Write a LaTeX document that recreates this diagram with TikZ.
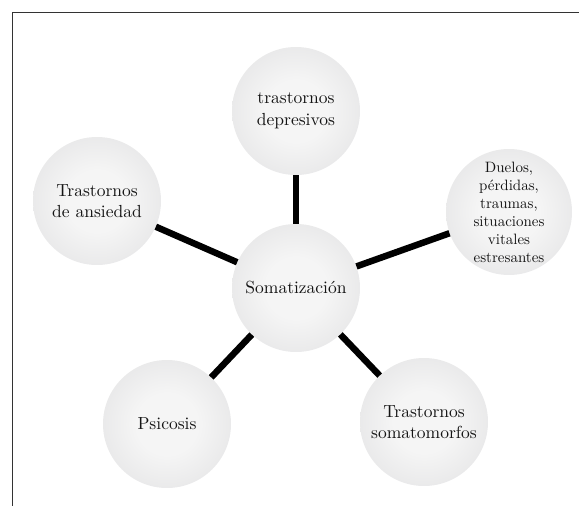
\documentclass[tikz,border=0pt]{standalone}
\usepackage{tikz}
\usepackage{fontspec}
\setmainfont{lmroman10-regular.otf}
\definecolor{ballin}{RGB}{245,245,245}
\definecolor{ballout}{RGB}{212,212,214}
\definecolor{txt}{RGB}{20,20,20}
\pgfdeclareradialshading{ballshade}{\pgfpoint{0bp}{0bp}}{color(0bp)=(ballin); color(12bp)=(ballin); color(50bp)=(ballout)}
\begin{document}
\begin{tikzpicture}[x=1pt,y=-1pt,
  ball/.style={circle, shading=ballshade, minimum size=128pt, inner sep=0pt, align=center, text=txt,
    font=\fontsize{17.5}{21.5}\selectfont},
  smallball/.style={ball, font=\fontsize{15}{18}\selectfont},
  link/.style={line width=6.5pt, black}]
\useasboundingbox (0,0) rectangle (579,506);
\draw[line width=0.9pt, black!80] (12,506) -- (12,12) -- (579,12);
\node[ball] (top) at (296,111) {trastornos\\depresivos};
\node[ball] (left) at (97,201) {Trastornos\\de ansiedad};
\node[smallball, minimum size=126pt] (right) at (509,212) {Duelos,\\pérdidas,\\traumas,\\situaciones\\vitales\\estresantes};
\node[ball] (center) at (296,288) {Somatización};
\node[ball] (psi) at (167,424) {Psicosis};
\node[ball] (som) at (424,422) {Trastornos\\somatomorfos};
\draw[link] (center) -- (top);
\draw[link] (center) -- (left);
\draw[link] (center) -- (right);
\draw[link] (center) -- (psi);
\draw[link] (center) -- (som);
\end{tikzpicture}
\end{document}
